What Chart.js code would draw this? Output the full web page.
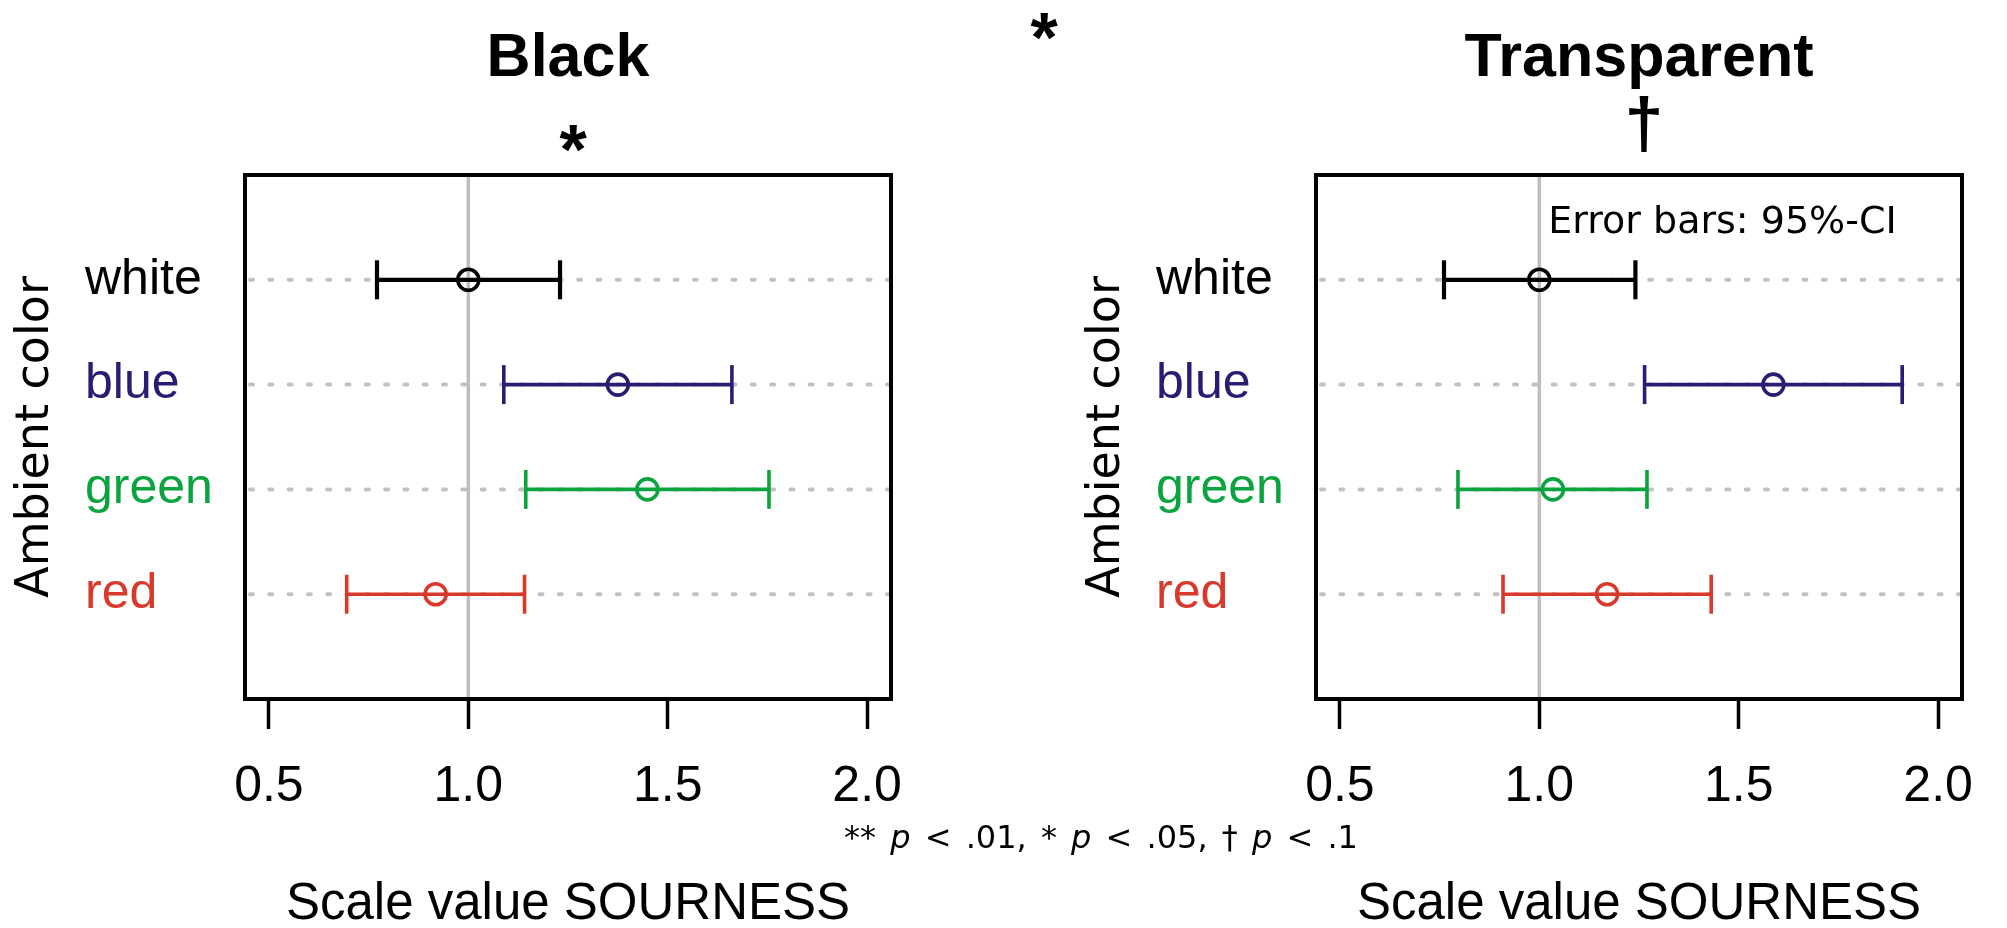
<!DOCTYPE html>
<html>
<head>
<meta charset="utf-8">
<title>Scale value SOURNESS</title>
<script src="https://cdn.jsdelivr.net/npm/chart.js@4.4.1/dist/chart.umd.min.js"></script>
<style>
  html, body { margin: 0; padding: 0; background: #fff; }
  body { width: 2007px; height: 928px; position: relative; overflow: hidden; }
  .panel { position: absolute; top: 0; width: 936px; height: 928px; }
  #black { left: 0; }
  #transparent { left: 1071px; }
  #topMark { position: absolute; left: 994px; width: 100px; top: 3px; text-align: center;
    font: bold 70px "Liberation Sans", Arial, sans-serif; line-height: 70px; }
  #note { position: absolute; left: 801px; width: 600px; top: 821px; text-align: center;
    font: 32px "DejaVu Sans", Verdana, sans-serif; line-height: 32px; word-spacing: 4px; white-space: nowrap; }
</style>
</head>
<body>
<div class="panel" id="black"><canvas id="chartBlack"></canvas></div>
<div class="panel" id="transparent"><canvas id="chartTransparent"></canvas></div>
<div id="topMark">*</div>
<div id="note">** <i>p</i> &lt; .01, * <i>p</i> &lt; .05, † <i>p</i> &lt; .1</div>
<script>
const categories = ['white', 'blue', 'green', 'red']
const rowPos = [4, 3, 2, 1]
const catColors = ['#000000', '#2c1b72', '#0aa43f', '#d8392b']

// black cup: means and 95% CI
const blackMean = [1.00, 1.375, 1.449, 0.918]
const blackLow  = [0.771, 1.089, 1.144, 0.695]
const blackHigh = [1.230, 1.661, 1.754, 1.141]

// transparent cup: means and 95% CI
const transMean = [1.000, 1.587, 1.034, 1.170]
const transLow  = [0.761, 1.264, 0.796, 0.909]
const transHigh = [1.241, 1.910, 1.270, 1.431]

const xTicks = [0.5, 1.0, 1.5, 2.0]
const refValue = 1.0

const SANS = '"Liberation Sans", Arial, sans-serif'
const VERDANA = '"DejaVu Sans", Verdana, sans-serif'

// frame, guide lines, headers
const decor = {
    id: 'decor',
    beforeDatasetsDraw(chart, args, opts) {
        const {ctx, chartArea: a, scales: {x, y}} = chart
        ctx.save()
        ctx.strokeStyle = '#c2c2c2'
        ctx.lineWidth = 4
        ctx.lineCap = 'round'
        ctx.setLineDash([3, 16.3])
        for (const p of rowPos) {
            const py = y.getPixelForValue(p)
            ctx.beginPath()
            ctx.moveTo(a.left + 5, py)
            ctx.lineTo(a.right - 2, py)
            ctx.stroke()
        }
        ctx.setLineDash([])
        ctx.lineCap = 'butt'
        ctx.strokeStyle = '#bebebe'
        ctx.lineWidth = 3.5
        const rx = x.getPixelForValue(refValue)
        ctx.beginPath()
        ctx.moveTo(rx, a.top)
        ctx.lineTo(rx, a.bottom)
        ctx.stroke()
        ctx.restore()
    },
    afterDraw(chart, args, opts) {
        const {ctx, chartArea: a, scales: {x, y}} = chart
        const cx = (a.left + a.right) / 2
        ctx.save()
        ctx.strokeStyle = '#000'
        ctx.lineWidth = 4
        ctx.strokeRect(a.left, a.top, a.right - a.left, a.bottom - a.top)
        ctx.fillStyle = '#000'
        ctx.textAlign = 'center'
        ctx.textBaseline = 'alphabetic'
        ctx.font = 'bold 61px ' + SANS
        ctx.fillText(opts.title, cx, 76)
        ctx.font = 'bold ' + opts.markSize + 'px ' + SANS
        ctx.fillText(opts.mark, cx + 5, opts.markY)
        if (opts.note) {
            ctx.textAlign = 'left'
            ctx.font = '38px ' + VERDANA
            ctx.fillText(opts.note, x.getPixelForValue(refValue) + 9, y.getPixelForValue(4.45))
        }
        ctx.restore()
    }
}

function makeDatasets(mean, low, high) {
    const sets = categories.map((c, i) => ({
        type: 'line',
        label: c,
        data: [{x: low[i], y: rowPos[i]}, {x: high[i], y: rowPos[i]}],
        borderColor: catColors[i],
        borderWidth: i === 0 ? 4.2 : 3.6,
        pointStyle: 'line',
        pointRotation: 90,
        pointRadius: 19.5,
        pointBorderWidth: i === 0 ? 4.2 : 3.6,
        pointBorderColor: catColors[i],
        fill: false
    }))
    sets.push({
        type: 'scatter',
        label: 'mean',
        data: mean.map((m, i) => ({x: m, y: rowPos[i]})),
        pointStyle: 'circle',
        pointRadius: 10.5,
        pointBorderWidth: 3.6,
        pointBorderColor: catColors,
        pointBackgroundColor: 'rgba(0,0,0,0)'
    })
    return sets
}

function makeOptions(header) {
    return {
        responsive: true,
        maintainAspectRatio: false,
        animation: false,
        events: [],
        layout: {padding: {top: 175, right: 31.5, bottom: 0, left: 85}},
        plugins: {
            legend: {display: false},
            tooltip: {enabled: false},
            decor: header
        },
        scales: {
            x: {
                type: 'linear',
                position: 'bottom',
                min: 0.44,
                max: 2.06,
                afterBuildTicks: s => { s.ticks = xTicks.map(v => ({value: v})) },
                afterFit: s => { s.height = 229 },
                ticks: {
                    font: {family: SANS, size: 50, lineHeight: 1},
                    color: '#000',
                    padding: 33,
                    maxRotation: 0,
                    autoSkip: false,
                    callback: v => v.toFixed(1)
                },
                grid: {display: true, drawOnChartArea: false, drawTicks: true, tickLength: 30, tickWidth: 3.5, tickColor: '#000'},
                border: {display: false},
                title: {
                    display: true,
                    text: 'Scale value SOURNESS',
                    color: '#000',
                    font: {family: SANS, size: 51, lineHeight: 1},
                    padding: {top: 0, bottom: -2}
                }
            },
            y: {
                type: 'linear',
                position: 'left',
                min: 0,
                max: 5,
                afterBuildTicks: s => { s.ticks = rowPos.map(v => ({value: v})) },
                afterFit: s => { s.width = 160 },
                ticks: {
                    font: {family: SANS, size: 50, lineHeight: 1},
                    crossAlign: 'far',
                    padding: 32,
                    autoSkip: false,
                    color: c => catColors[rowPos.indexOf(c.tick.value)],
                    callback: v => categories[rowPos.indexOf(v)]
                },
                grid: {display: false, drawTicks: false},
                border: {display: false},
                title: {
                    display: true,
                    text: 'Ambient color',
                    color: '#000',
                    font: {family: VERDANA, size: 46, lineHeight: 1},
                    padding: {top: -72, bottom: 0}
                }
            }
        }
    }
}

new Chart(document.getElementById('chartBlack'), {
    type: 'scatter',
    data: {datasets: makeDatasets(blackMean, blackLow, blackHigh)},
    options: makeOptions({title: 'Black', mark: '*', markSize: 70, markY: 174}),
    plugins: [decor]
})

new Chart(document.getElementById('chartTransparent'), {
    type: 'scatter',
    data: {datasets: makeDatasets(transMean, transLow, transHigh)},
    options: makeOptions({title: 'Transparent', mark: '†', markSize: 70, markY: 147, note: 'Error bars: 95%-CI'}),
    plugins: [decor]
})
</script>
</body>
</html>
